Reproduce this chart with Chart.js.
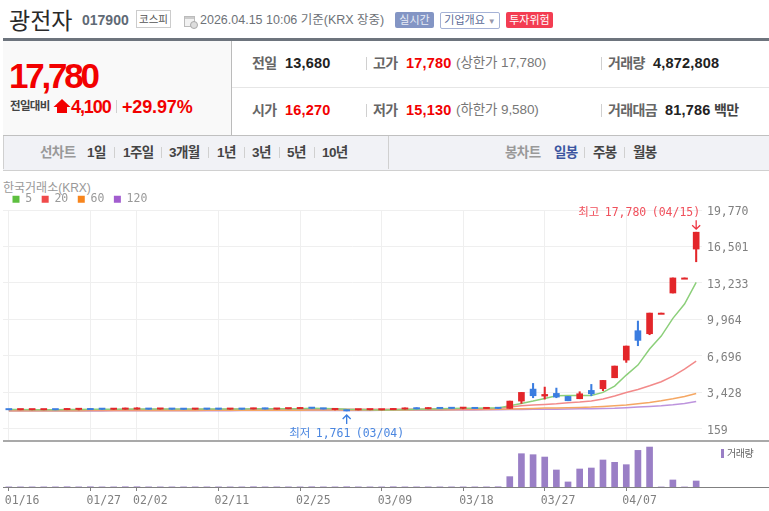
<!DOCTYPE html>
<html lang="ko"><head><meta charset="utf-8">
<script src="https://cdn.jsdelivr.net/npm/chart.js@4"></script>
<style>
html,body{margin:0;padding:0;background:#fff;width:769px;height:511px;overflow:hidden;font-family:"Liberation Sans","Noto Sans CJK KR",sans-serif}
.t{position:absolute;white-space:nowrap;line-height:20px;height:20px}
.b{position:absolute}
.lb{font-weight:700;color:#666;font-size:14px;letter-spacing:-.6px}
.val{font-weight:700;color:#222;font-size:14.5px;letter-spacing:.2px}
.red{color:#f20000}
.sub{color:#777;font-size:13.5px;letter-spacing:-.1px}
.nav{font-weight:700;color:#444;font-size:13.5px;letter-spacing:-.6px}
.sep{position:absolute;width:1px;background:#d0d0d0}
canvas{position:absolute;left:0}
</style></head><body>

<div class="t" style="left:9px;top:7px;font-size:23px;line-height:24px;height:24px;letter-spacing:0;color:#2a2a2a;font-family:'Noto Sans CJK KR'">광전자</div>
<div class="t" style="left:82px;top:10px;font-size:14px;font-weight:700;color:#5f6a75">017900</div>
<div class="t" style="left:136px;top:10px;width:33px;height:16px;line-height:16px;border:1px solid #ccc;text-align:center;font-size:10.5px;color:#555">코스피</div>
<svg class="b" style="left:184px;top:15px" width="14" height="14"><rect x=".5" y="1.5" width="10" height="10" fill="#f2f2f2" stroke="#bbb"/><rect x="1" y="2" width="9" height="2" fill="#ccc"/><circle cx="10" cy="10" r="3.5" fill="#ddd" stroke="#aaa"/></svg>
<div class="t" style="left:200px;top:10px;font-size:12.5px;color:#6e7278">2026.04.15 10:06 기준(KRX 장중)</div>
<div class="t" style="left:395px;top:12px;width:39px;height:16px;line-height:16px;background:#8395c4;border-radius:2px;text-align:center;font-size:11px;color:#e8ecf6">실시간</div>
<div class="t" style="left:440px;top:12px;width:58px;height:15px;line-height:15px;border:1px solid #a5b2d6;border-radius:2px;text-align:center;font-size:11px;color:#5b6b98">기업개요 <span style="color:#99a;font-size:8px">▼</span></div>
<div class="t" style="left:506px;top:12px;width:47px;height:16px;line-height:16px;background:#f33d52;border-radius:2px;text-align:center;font-size:11px;color:#fff">투자위험</div>

<div class="b" style="left:3px;top:38px;width:766px;height:3px;background:#6d747d"></div>
<div class="b" style="left:3px;top:41px;width:228px;height:94px;background:#f9f9f9;border-right:1px solid #bbb"></div>
<div class="b" style="left:232px;top:87px;width:537px;height:1px;background:#e6e6e6"></div>
<div class="b" style="left:3px;top:135px;width:766px;height:34px;background:#f1f2f6;border-top:1px solid #c0c0c0;border-bottom:1px solid #d0d0d0"></div>
<div class="b" style="left:3px;top:136px;width:1px;height:33px;background:#d0d0d0"></div>
<div class="b" style="left:388px;top:136px;width:1px;height:33px;background:#d0d0d0"></div>

<div class="t red" style="left:9px;top:64px;font-size:35px;line-height:24px;height:24px;font-weight:700;letter-spacing:-3.2px">17,780</div>
<div class="t" style="left:10px;top:96px;font-size:11.5px;font-weight:700;color:#444;letter-spacing:-.7px">전일대비</div>
<svg class="b" style="left:53px;top:99px" width="18" height="15"><path d="M9 0 L17.5 8 L14 8 L14 14 L4 14 L4 8 L.5 8 Z" fill="#f20000"/></svg>
<div class="t red" style="left:71px;top:97px;font-size:18px;font-weight:700;letter-spacing:-1.1px">4,100</div>
<div class="sep" style="left:116px;top:100px;height:13px"></div>
<div class="t red" style="left:122px;top:97px;font-size:18px;font-weight:700;letter-spacing:-.15px">+29.97%</div>

<div class="t lb" style="left:252px;top:53px">전일</div><div class="t val" style="left:285px;top:53px">13,680</div>
<div class="sep" style="left:366px;top:57px;height:13px"></div>
<div class="t lb" style="left:373px;top:53px">고가</div><div class="t val red" style="left:406px;top:53px">17,780</div>
<div class="t sub" style="left:456px;top:53px">(상한가 17,780)</div>
<div class="sep" style="left:601px;top:57px;height:13px"></div>
<div class="t lb" style="left:608px;top:53px">거래량</div><div class="t val" style="left:653px;top:53px">4,872,808</div>

<div class="t lb" style="left:252px;top:100px">시가</div><div class="t val red" style="left:285px;top:100px">16,270</div>
<div class="sep" style="left:366px;top:104px;height:13px"></div>
<div class="t lb" style="left:373px;top:100px">저가</div><div class="t val red" style="left:406px;top:100px">15,130</div>
<div class="t sub" style="left:456px;top:100px">(하한가 9,580)</div>
<div class="sep" style="left:601px;top:104px;height:13px"></div>
<div class="t lb" style="left:608px;top:100px">거래대금</div><div class="t val" style="left:665px;top:100px">81,786</div>
<div class="t lb" style="left:714px;top:100px;color:#444">백만</div>

<div class="t nav" style="left:40px;top:143px;color:#999">선차트</div>
<div class="t nav" style="left:87px;top:143px">1일</div><div class="sep" style="left:114px;top:147px;height:11px"></div>
<div class="t nav" style="left:123px;top:143px">1주일</div><div class="sep" style="left:161px;top:147px;height:11px"></div>
<div class="t nav" style="left:169px;top:143px">3개월</div><div class="sep" style="left:208px;top:147px;height:11px"></div>
<div class="t nav" style="left:217px;top:143px">1년</div><div class="sep" style="left:244px;top:147px;height:11px"></div>
<div class="t nav" style="left:252px;top:143px">3년</div><div class="sep" style="left:279px;top:147px;height:11px"></div>
<div class="t nav" style="left:287px;top:143px">5년</div><div class="sep" style="left:314px;top:147px;height:11px"></div>
<div class="t nav" style="left:322px;top:143px">10년</div>
<div class="t nav" style="left:505px;top:143px;color:#999">봉차트</div>
<div class="t nav" style="left:554px;top:143px;color:#3b55a0">일봉</div><div class="sep" style="left:584px;top:147px;height:11px"></div>
<div class="t nav" style="left:593px;top:143px">주봉</div><div class="sep" style="left:624px;top:147px;height:11px"></div>
<div class="t nav" style="left:633px;top:143px">월봉</div>

<div class="t" style="left:3px;top:178px;font-size:12px;color:#999">한국거래소(KRX)</div>

<canvas id="price" width="769" height="268" style="top:184px"></canvas>
<canvas id="volume" width="769" height="70" style="top:441px"></canvas>

<div class="b" style="left:3px;top:440px;width:766px;height:2px;background:#a9a9a9"></div>
<div class="b" style="left:3px;top:487px;width:766px;height:1px;background:#808080"></div>
<div class="b" style="left:721px;top:449px;width:3px;height:9px;background:#9a7fc6"></div>
<div class="t" style="left:727px;top:444px;font-size:10px;color:#666;letter-spacing:-.4px">거래량</div>

<script>
const dates = ['01/16','','','','','','','01/27','','','','02/02','','','','','','','02/11','','','','','','','02/25','','','','','','','03/09','','','','','','','03/18','','','','','','','03/27','','','','','','','04/07','','','','','',''];
const opens  = [1890,1860,1860,1860,1890,1870,1890,1960,1945,1900,1910,1920,1950,1920,1950,1950,1910,1950,1950,1910,1950,1930,1970,1920,1950,1960,2060,2000,1880,1850,1850,1860,1850,1870,1920,1970,1950,2040,2040,1990,2030,1970,2040,1985,2643,3719,3091,3330,3062,2853,3600,3749,4735,6319,8950,8681,10530,12330,13680,16270];
const closes = [1860,1885,1880,1885,1860,1960,1920,1870,1900,1930,1940,1950,1910,1950,1910,1900,1940,1910,1910,1940,1910,2010,1930,1970,1980,1990,1990,1930,1910,1761,1880,1890,1880,1960,1950,1940,1980,1970,1980,2020,1970,2040,1980,2643,3420,3121,3240,3002,2673,3300,3300,4496,5782,7575,8083,10530,10530,13680,13680,17780];
const highs  = [1890,1885,1880,1885,1890,1960,1960,1960,1945,1960,2020,2040,1950,1950,1950,1950,1940,1950,1950,1940,1950,2010,2010,1970,1980,2060,2060,2000,1930,1850,1880,1890,1880,1960,2030,2050,2050,2040,2040,2060,2030,2040,2040,2643,3420,4227,3898,3809,3062,3480,4138,4496,5782,7575,9817,10530,10530,13680,13680,17780];
const lows   = [1860,1860,1860,1860,1860,1870,1850,1870,1900,1880,1910,1920,1910,1920,1910,1900,1910,1910,1910,1910,1910,1930,1930,1920,1950,1960,1990,1930,1850,1761,1850,1860,1850,1870,1920,1940,1950,1970,1980,1950,1970,1970,1980,1985,2434,2942,2822,2942,2673,2853,3121,3570,4735,6110,7605,8590,10530,12330,13680,15130];
const ma5   = [1880,1878,1875,1874,1873,1885,1893,1900,1910,1915,1925,1932,1935,1935,1930,1928,1925,1925,1928,1928,1928,1945,1955,1950,1950,1965,1990,1975,1950,1900,1880,1860,1850,1865,1890,1915,1940,1965,1985,2000,2010,2015,2020,2224,2434,2643,2882,3121,3151,3140,3151,3420,3988,4974,5871,7306,8471,10056,11341,13284];
const ma20  = [1850,1850,1852,1852,1855,1858,1860,1862,1865,1868,1872,1875,1880,1885,1888,1890,1892,1895,1898,1900,1905,1908,1910,1912,1915,1915,1918,1918,1915,1912,1910,1905,1902,1900,1900,1900,1905,1910,1920,1930,1945,1965,1985,2105,2224,2284,2344,2404,2493,2553,2643,2822,3091,3420,3689,4018,4377,4885,5512,6230];
const ma60  = [1770,1772,1775,1778,1780,1782,1785,1788,1790,1792,1795,1798,1800,1802,1805,1808,1810,1812,1815,1818,1820,1822,1825,1828,1830,1832,1835,1838,1840,1842,1845,1848,1850,1852,1855,1860,1865,1870,1875,1880,1885,1895,1905,1925,1955,1985,2015,2015,2045,2075,2105,2165,2224,2284,2404,2524,2673,2852,3062,3330];
const ma120 = [1750,1752,1754,1755,1757,1759,1760,1762,1764,1766,1768,1770,1772,1774,1776,1778,1780,1782,1784,1786,1788,1790,1792,1794,1796,1798,1800,1802,1804,1806,1808,1810,1812,1815,1818,1821,1825,1830,1836,1842,1850,1860,1870,1880,1890,1900,1910,1920,1930,1945,1960,1975,1990,2045,2105,2165,2224,2314,2434,2613];
const volumes = [.1,.1,.1,.1,.1,.2,.1,.2,.1,.1,.2,.2,.1,.1,.1,.1,.1,.1,.1,.1,.1,.2,.1,.1,.1,.1,.2,.1,.1,.2,.1,.1,.1,.2,.1,.1,.1,.1,.1,.1,.1,.1,.2,8.4,27,26.2,24.3,13.8,4.1,14.6,15.4,21.9,20,18.1,29.7,32.4,.05,5.7,.05,4.87];
const priceTicks = [159,3428,6696,9964,13233,16501,19770];
const maNames = ['5','20','60','120'];
const maColors = ['#8ccf7a','#f28a8a','#f5a763','#bd94dd'];
const legendColors = ['#5dbf3f','#f04a4a','#f7851d','#a25dcf'];
const highNote = {index:59, text:'최고 17,780 (04/15)', value:17780};
const lowNote  = {index:29, text:'최저 1,761 (03/04)', value:1761};

const MONO = '"DejaVu Sans Mono","Noto Sans CJK KR",monospace';
const UP = '#e3262a', DOWN = '#3b7de0';
const candleColors = closes.map((c,i)=> c>=opens[i] ? UP : DOWN);
const PLOT_RIGHT = 67;

function arrow(ctx,x,y1,y2,col){
  const d = y2>y1 ? -1 : 1;
  ctx.strokeStyle=col; ctx.lineWidth=1.3;
  ctx.beginPath(); ctx.moveTo(x,y1); ctx.lineTo(x,y2);
  ctx.moveTo(x-4,y2+d*4); ctx.lineTo(x,y2); ctx.lineTo(x+4,y2+d*4); ctx.stroke();
}
const notes = {
  id:'notes',
  beforeLayout(chart){
    const lg = chart.legend;
    if(lg && !lg._patched){ const f = lg.fit; lg.fit = function(){ f.call(this); this.height = 26; }; lg._patched = true; }
  },
  afterDatasetsDraw(chart){
    const c = chart.ctx, xs = chart.scales.x, ys = chart.scales.y;
    c.save();
    c.font = '11.5px '+MONO; c.textBaseline='middle';
    try{ c.wordSpacing='-1.5px'; }catch(e){}
    const hx = xs.getPixelForValue(highNote.index), hy = ys.getPixelForValue(highNote.value);
    c.fillStyle='#f0505c'; c.textAlign='right';
    c.fillText(highNote.text, hx+4, hy-19.5);
    arrow(c,hx,hy-12,hy-3,'#ee3340');
    const lx = xs.getPixelForValue(lowNote.index), ly = ys.getPixelForValue(lowNote.value);
    c.fillStyle='#4a86e0'; c.textAlign='center';
    c.fillText(lowNote.text, lx, ly+23.5);
    arrow(c,lx,ly+13,ly+4,'#3b7de0');
    c.restore();
  }
};

const lineSets = [ma5,ma20,ma60,ma120].map((d,i)=>({
  type:'line', label:maNames[i], data:d, borderColor:maColors[i], backgroundColor:legendColors[i],
  borderWidth:1.5, pointRadius:0, tension:0, order:3+i
}));

new Chart(document.getElementById('price'),{
  type:'bar',
  data:{labels:dates,datasets:[
    ...lineSets,
    {label:'body',data:opens.map((o,i)=>[o,closes[i]]),backgroundColor:candleColors,barThickness:6,minBarLength:1.3,grouped:false,order:1,borderWidth:0},
    {label:'wick',data:lows.map((l,i)=>[l,highs[i]]),backgroundColor:candleColors,barThickness:1.4,grouped:false,order:2,borderWidth:0}
  ]},
  plugins:[notes],
  options:{
    responsive:false,animation:false,events:[],
    layout:{padding:{left:3,right:0,top:0,bottom:1}},
    plugins:{
      tooltip:{enabled:false},
      legend:{display:true,position:'top',align:'start',
        labels:{boxWidth:7,boxHeight:7,padding:9.5,color:'#999',font:{family:MONO,size:11.5},
          generateLabels:()=>maNames.map((n,i)=>({text:n,fillStyle:legendColors[i],strokeStyle:legendColors[i],fontColor:'#999',lineWidth:0,hidden:false,datasetIndex:i}))
        }}
    },
    scales:{
      x:{type:'category',offset:true,
        border:{display:false},
        afterFit(s){s.height=0;},
        ticks:{display:false,autoSkip:false},
        grid:{drawTicks:false,lineWidth:1,color:c=>dates[c.index]?'#efefef':'rgba(0,0,0,0)',offset:false}
      },
      y:{position:'right',min:-854,max:19770,
        afterFit(s){s.width=PLOT_RIGHT;},
        afterBuildTicks(s){s.ticks=priceTicks.map(v=>({value:v}));},
        border:{display:false},
        grid:{color:'#efefef',lineWidth:1,drawTicks:false},
        ticks:{color:'#808080',padding:5,labelOffset:2,font:{family:MONO,size:11.5},align:'center',crossAlign:'near',
          callback:v=>Number(v).toLocaleString('en-US')}
      }
    }
  }
});

new Chart(document.getElementById('volume'),{
  type:'bar',
  data:{labels:dates,datasets:[{label:'거래량',data:volumes,backgroundColor:'#9a7fc6',barThickness:6,borderWidth:0}]},
  options:{
    responsive:false,animation:false,events:[],
    layout:{padding:{left:3,right:PLOT_RIGHT,top:0,bottom:0}},
    plugins:{legend:{display:false},tooltip:{enabled:false}},
    scales:{
      x:{type:'category',offset:true,
        afterFit(s){s.height=24;},
        border:{display:false},
        grid:{drawOnChartArea:false,drawTicks:true,tickLength:4,offset:false,tickColor:c=>dates[c.index]?'#808080':'rgba(0,0,0,0)'},
        ticks:{autoSkip:false,maxRotation:0,minRotation:0,align:'start',labelOffset:-4,padding:3,color:'#808080',
          font:{family:MONO,size:11.5},callback:(v,i)=>dates[i]}
      },
      y:{display:false,min:0,max:37.3}
    }
  }
});
</script>
</body></html>
